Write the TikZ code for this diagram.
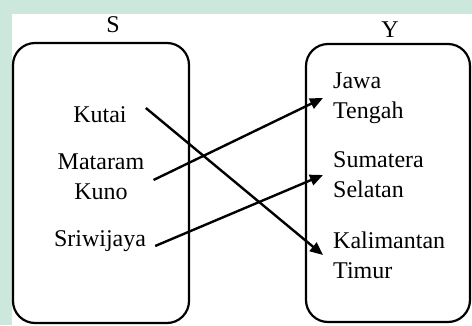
\documentclass[tikz,border=0pt]{standalone}
\usepackage{fontspec}
\setmainfont{Liberation Serif}
\usetikzlibrary{arrows.meta,positioning}
\definecolor{mint}{RGB}{204,232,220}

\begin{document}
\begin{tikzpicture}[x=1pt, y=-1pt,
      every node/.style={font=\fontsize{24}{30}\selectfont},
      setbox/.style={draw, line width=2.2pt, rounded corners=22pt},
      srcnode/.style={align=center, inner xsep=9pt, inner ysep=0pt},
      tgtnode/.style={align=left, anchor=west, inner xsep=10pt, inner ysep=0pt},
      arr/.style={-{Triangle[length=13pt, width=11pt]}, line width=2.4pt}
    ]

    % ===== page background =====
    \fill[mint] (0,0) rectangle (472,325);
    \fill[white] (12,14) rectangle (472,325);
    \useasboundingbox (0,0) rectangle (472,325);

    % ===== the two sets =====
    \draw[setbox] (13,43) rectangle (189,323);
    \draw[setbox] (306,44) rectangle (470,322);
    \node (lblS) at (113,25) {S};
    \node (lblY) at (390,30) {Y};

    % ===== domain: kingdoms =====
    \node[srcnode] (kutai) at (100,115) {Kutai};
    \node[srcnode] (mataram) at (101,177) {Mataram\\Kuno};
    \node[srcnode] (sriwijaya) at (100,241) {Sriwijaya};

    % ===== codomain: provinces =====
    \node[tgtnode] (jateng) at (323,98) {Jawa\\Tengah};
    \node[tgtnode] (sumsel) at (323,175) {Sumatera\\Selatan};
    \node[tgtnode] (kaltim) at (323,255) {Kalimantan\\Timur};

    % ===== the mapping =====
    \draw[arr] ([shift={(10,-7)}]kutai.east) -- (kaltim.west);
    \draw[arr] ([yshift=-3]mataram.east) -- (jateng.west);
    \draw[arr] ([yshift=-5]sriwijaya.east) -- (sumsel.west);
  \end{tikzpicture}
\end{document}
